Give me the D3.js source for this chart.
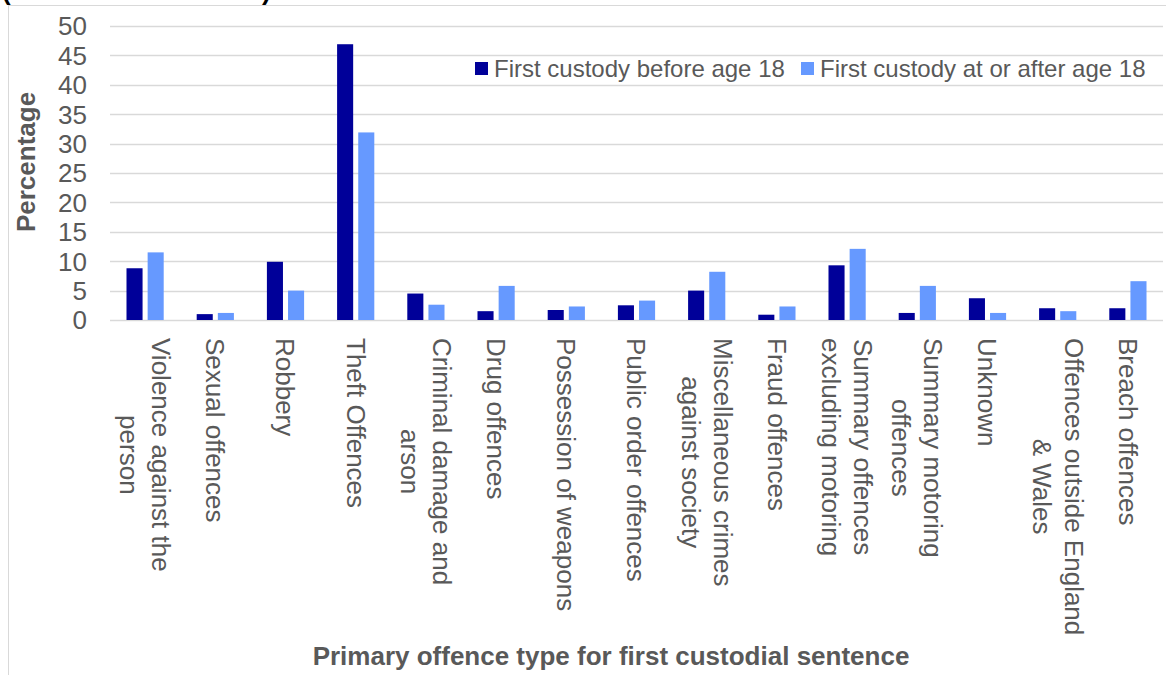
<!DOCTYPE html>
<html>
<head>
<meta charset="utf-8">
<script src="https://cdn.jsdelivr.net/npm/d3@7"></script>
<style>
  body { margin: 0; background: #fff; }
  svg { font-family: "Liberation Sans", Arial, sans-serif; }
</style>
</head>
<body>
<svg id="chart"></svg>
<script>
// Offence categories (line breaks as in the original labels)
const categories = [
    "Violence against the\nperson",
    "Sexual offences",
    "Robbery",
    "Theft Offences",
    "Criminal damage and\narson",
    "Drug offences",
    "Possession of weapons",
    "Public order offences",
    "Miscellaneous crimes\nagainst society",
    "Fraud offences",
    "Summary offences\nexcluding motoring",
    "Summary motoring\noffences",
    "Unknown",
    "Offences outside England\n& Wales",
    "Breach offences"
];

// Percentages
const beforeAge18 = [8.8, 1.0, 9.9, 46.9, 4.5, 1.5, 1.7, 2.5, 5.0, 0.9, 9.3, 1.2, 3.7, 2.0, 2.0];
const afterAge18 = [11.5, 1.2, 5.0, 31.9, 2.6, 5.8, 2.3, 3.3, 8.2, 2.3, 12.1, 5.8, 1.2, 1.5, 6.6];

const seriesNames = ["First custody before age 18", "First custody at or after age 18"];
const seriesColors = ["#000099", "#6699FF"];
const yTicks = [0, 5, 10, 15, 20, 25, 30, 35, 40, 45, 50];

const width = 1166;
const height = 675;
const textColor = "#595959";
const gridColor = "#D9D9D9";

const svg = d3.select("#chart")
    .attr("width", width)
    .attr("height", height);

// Chart area border
svg.append("rect")
    .attr("x", 8.5)
    .attr("y", 5.5)
    .attr("width", width)
    .attr("height", height)
    .attr("fill", "none")
    .attr("stroke", gridColor);

// Title fragment cut off at the top
svg.append("text")
    .attr("x", 2)
    .attr("y", 0)
    .attr("font-size", 26)
    .attr("font-weight", "bold")
    .attr("fill", "#000")
    .text("(");
svg.append("text")
    .attr("x", 262)
    .attr("y", 0)
    .attr("font-size", 26)
    .attr("font-weight", "bold")
    .attr("fill", "#000")
    .text(")");

// Scales
const x0 = d3.scaleBand()
    .domain(categories)
    .range([110, 1163])
    .paddingInner(0.47)
    .paddingOuter(0.235);

const x1 = d3.scaleBand()
    .domain([0, 1])
    .range([0, x0.bandwidth()])
    .paddingInner(0.24);

const y = d3.scaleLinear()
    .domain([0, 50])
    .range([320, 26]);

// Gridlines
svg.append("g")
    .selectAll("line")
    .data(yTicks)
    .enter().append("line")
    .attr("x1", 110)
    .attr("x2", 1163)
    .attr("y1", d => Math.round(y(d)) + 0.5)
    .attr("y2", d => Math.round(y(d)) + 0.5)
    .attr("stroke", gridColor)
    .attr("stroke-width", 1.3);

// Y axis tick labels
svg.append("g")
    .selectAll("text")
    .data(yTicks)
    .enter().append("text")
    .attr("x", 87)
    .attr("y", d => y(d))
    .attr("dy", "0.36em")
    .attr("text-anchor", "end")
    .attr("font-size", 26)
    .attr("fill", textColor)
    .text(d => d);

// Bars
const groups = svg.append("g")
    .selectAll("g")
    .data(categories)
    .enter().append("g")
    .attr("transform", d => `translate(${x0(d)},0)`);

groups.selectAll("rect")
    .data((d, i) => [beforeAge18[i], afterAge18[i]])
    .enter().append("rect")
    .attr("x", (d, j) => x1(j))
    .attr("width", x1.bandwidth())
    .attr("y", d => y(d))
    .attr("height", d => y(0) - y(d))
    .attr("fill", (d, j) => seriesColors[j]);

// Rotated category labels
const lineH = 32;
const labels = svg.append("g")
    .selectAll("g")
    .data(categories)
    .enter().append("g")
    .attr("transform", d => `translate(${x0(d) + x0.bandwidth() / 2},338) rotate(90)`);

labels.each(function(d) {
    const g = d3.select(this);
    const lines = d.split("\n");
    const texts = lines.map((line, i) => g.append("text")
        .attr("font-size", 26)
        .attr("fill", textColor)
        .attr("text-anchor", "middle")
        .attr("y", (i - (lines.length - 1) / 2) * lineH)
        .attr("dy", "0.35em")
        .text(line));
    const maxW = d3.max(texts, t => t.node().getComputedTextLength());
    texts.forEach(t => t.attr("x", maxW / 2));
});

// Axis titles
svg.append("text")
    .attr("x", 611)
    .attr("y", 665)
    .attr("text-anchor", "middle")
    .attr("font-size", 26)
    .attr("font-weight", "bold")
    .attr("fill", textColor)
    .text("Primary offence type for first custodial sentence");

svg.append("text")
    .attr("transform", "translate(35,162) rotate(-90)")
    .attr("text-anchor", "middle")
    .attr("font-size", 26)
    .attr("font-weight", "bold")
    .attr("fill", textColor)
    .text("Percentage");

// Legend
const legendX = [475, 801];
const legend = svg.append("g")
    .selectAll("g")
    .data(seriesNames)
    .enter().append("g")
    .attr("transform", (d, i) => `translate(${legendX[i]},62)`);

legend.append("rect")
    .attr("width", 13)
    .attr("height", 13)
    .attr("fill", (d, i) => seriesColors[i]);

legend.append("text")
    .attr("x", 19)
    .attr("y", 14.5)
    .attr("font-size", 24)
    .attr("fill", textColor)
    .text(d => d);
</script>
</body>
</html>
